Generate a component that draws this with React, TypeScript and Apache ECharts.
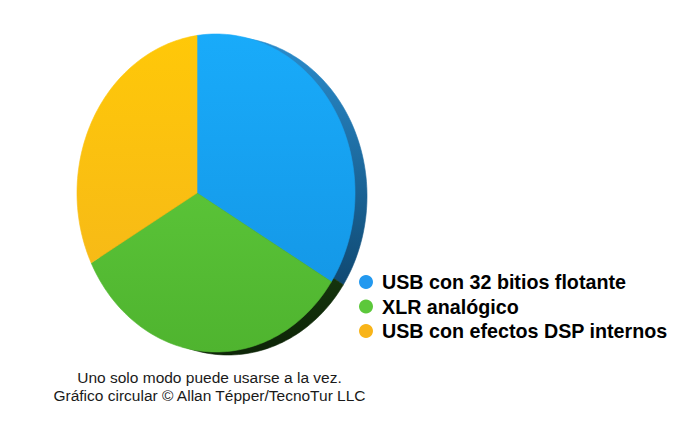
import React, { useEffect, useRef } from "react";
import * as echarts from "echarts";

// ---- data ----
const categories = ["USB con 32 bitios flotante", "XLR analógico", "USB con efectos DSP internos"];
const values = [1, 1, 1];
const legendColors = ["#2399ef", "#5cc83b", "#f8b419"];
const faceTopColors = ["#19abfa", "#64d13f", "#ffc808"];
const faceBottomColors = ["#1393e2", "#4fb42f", "#f4b51c"];
const rimTopColors = ["#2a8ccc", "#2f6a1f", "#8a6510"];
const rimBottomColors = ["#0a3a5e", "#0e2608", "#3a2a05"];
const notes = ["Uno solo modo puede usarse a la vez.", "Gráfico circular © Allan Tépper/TecnoTur LLC"];

// ---- geometry ----
const PIE_CX = 197;
const PIE_CY = 193;
const ELL_CX = 216;
const ELL_CY = 193;
const RX = 139;
const RY = 159;
const DEPTH_DX = 12;
const DEPTH_DY = 3;

function rayPoint(thetaDeg: number, ox: number, oy: number): number[] {
  const t = (thetaDeg * Math.PI) / 180;
  const dx = Math.sin(t) * RX;
  const dy = -Math.cos(t) * RY;
  const ux = PIE_CX - ELL_CX;
  const uy = PIE_CY - ELL_CY;
  const A = (dx * dx) / (RX * RX) + (dy * dy) / (RY * RY);
  const B = 2 * ((ux * dx) / (RX * RX) + (uy * dy) / (RY * RY));
  const C = (ux * ux) / (RX * RX) + (uy * uy) / (RY * RY) - 1;
  const s = (-B + Math.sqrt(B * B - 4 * A * C)) / (2 * A);
  return [PIE_CX + s * dx + ox, PIE_CY + s * dy + oy];
}

function wedge(a0: number, a1: number, ox: number, oy: number): number[][] {
  const pts: number[][] = [[PIE_CX + ox, PIE_CY + oy]];
  const steps = Math.max(2, Math.ceil((a1 - a0) / 1.5));
  for (let k = 0; k <= steps; k++) {
    pts.push(rayPoint(a0 + ((a1 - a0) * k) / steps, ox, oy));
  }
  return pts;
}

const total = values.reduce((s, v) => s + v, 0);
const cumulative = values.map((_, i) => values.slice(0, i).reduce((s, v) => s + v, 0));

function vgrad(top: string, bottom: string, y0: number, y1: number) {
  return new echarts.graphic.LinearGradient(0, y0, 0, y1, [
    { offset: 0, color: top },
    { offset: 1, color: bottom },
  ], true);
}

export default function App() {
  const ref = useRef<HTMLDivElement>(null);
  useEffect(() => {
    if (!ref.current) return;
    const chart = echarts.init(ref.current, undefined, { renderer: "svg" });
    const series = categories.map((name, i) => ({
      type: "custom",
      name,
      coordinateSystem: "none",
      silent: true,
      data: [values[i]],
      itemStyle: { color: legendColors[i] },
      renderItem: (params: any, api: any) => {
        const v = api.value(0);
        const a0 = (cumulative[i] / total) * 360;
        const a1 = ((cumulative[i] + v) / total) * 360;
        const rimFill = vgrad(rimTopColors[i], rimBottomColors[i], 40, 340);
        const faceFill = vgrad(faceTopColors[i], faceBottomColors[i], 34, 352);
        return {
          type: "group",
          children: [
            {
              type: "polygon",
              z2: 1,
              shape: { points: wedge(a0, a1, DEPTH_DX, DEPTH_DY) },
              style: { fill: rimFill, stroke: rimFill, lineWidth: 0.6 },
            },
            {
              type: "polygon",
              z2: 10,
              shape: { points: wedge(a0, a1, 0, 0) },
              style: { fill: faceFill, stroke: faceFill, lineWidth: 0.6 },
            },
          ],
        };
      },
    }));
    chart.setOption({
      animation: false,
      backgroundColor: "#ffffff",
      legend: {
        orient: "vertical",
        left: 354,
        top: 267,
        padding: 5,
        itemWidth: 22,
        itemHeight: 14,
        itemGap: 4.5,
        icon: "circle",
        selectedMode: false,
        data: categories,
        textStyle: {
          fontFamily: "Liberation Sans",
          fontWeight: "bold",
          fontSize: 19.7,
          color: "#000000",
        },
      },
      graphic: notes.map((t, k) => ({
        type: "text",
        x: 209.5,
        y: 377 + k * 18,
        style: {
          text: t,
          textAlign: "center",
          textVerticalAlign: "middle",
          fontFamily: "Liberation Sans",
          fontSize: 15.5,
          fill: "#1a1a1a",
        },
      })),
      series,
    });
    return () => chart.dispose();
  }, []);
  return (
    <div
      ref={ref}
      style={{ position: "fixed", left: 0, top: 0, width: 700, height: 435, background: "#fff" }}
    />
  );
}
